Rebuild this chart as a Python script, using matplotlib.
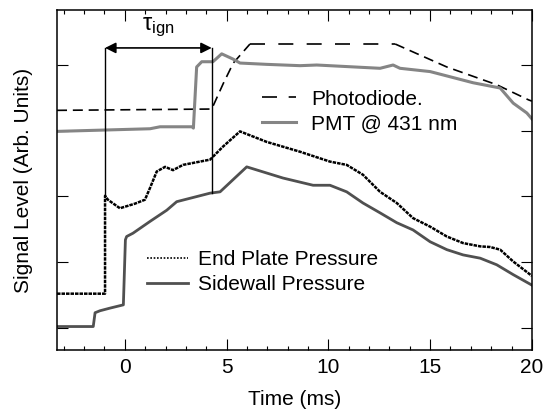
import numpy as np
import matplotlib
matplotlib.use('Agg')
from matplotlib import pyplot as plt
from matplotlib.lines import Line2D

plt.rcParams['font.family'] = ['Liberation Sans', 'DejaVu Sans']
plt.rcParams['mathtext.fontset'] = 'custom'
plt.rcParams['mathtext.rm'] = 'Liberation Sans'
plt.rcParams['mathtext.it'] = 'Liberation Sans:italic'
FS = 15

# photodiode (dashed), time in ms, signal in arb. units
pd_t = [-3.33, 4.27, 4.84, 5.33, 6.15, 13.28, 15.82, 18.27, 19.83, 20.0]
pd_y = [3.31, 3.33, 3.72, 4.03, 4.32, 4.32, 3.97, 3.70, 3.47, 3.45]

# PMT @ 431 nm
pmt_t = [-3.33, 1.24, 1.73, 3.30, 3.37, 3.53, 3.78, 4.33, 4.76, 5.32, 5.66,
         6.97, 8.61, 9.43, 12.54, 13.18, 13.52, 15.00, 17.11, 18.44, 19.08,
         19.75, 20.0]
pmt_y = [2.99, 3.03, 3.06, 3.06, 3.04, 3.97, 4.05, 4.05, 4.17, 4.09, 4.03,
         4.01, 3.99, 4.00, 3.95, 4.00, 3.95, 3.90, 3.73, 3.65, 3.42,
         3.27, 3.18]

# end plate pressure
ep_t = [-3.33, -0.97, -0.97, -0.83, -0.24, 0.50, 0.99, 1.24, 1.57, 1.98,
        2.37, 2.86, 4.19, 4.83, 5.66, 6.97, 8.61, 10.08, 10.90, 11.70,
        12.54, 13.36, 14.16, 15.00, 15.82, 16.62, 17.46, 17.95, 18.44,
        19.08, 20.0]
ep_y = [0.52, 0.52, 2.01, 1.95, 1.82, 1.89, 1.95, 2.13, 2.38, 2.45,
        2.40, 2.48, 2.56, 2.76, 2.99, 2.83, 2.68, 2.53, 2.48, 2.33,
        2.07, 1.90, 1.67, 1.54, 1.39, 1.29, 1.24, 1.23, 1.19,
        1.01, 0.79]

# sidewall pressure
sw_t = [-3.33, -1.55, -1.46, -1.22, -0.73, -0.07, 0.03, 0.09, 0.40, 1.24,
        2.06, 2.55, 4.19, 4.68, 5.99, 7.77, 9.25, 10.08, 10.90, 11.70,
        12.54, 13.36, 14.16, 15.00, 15.82, 16.62, 17.46, 18.27, 19.08, 20.0]
sw_y = [0.02, 0.02, 0.23, 0.26, 0.30, 0.35, 1.34, 1.39, 1.44, 1.62,
        1.79, 1.92, 2.05, 2.07, 2.45, 2.28, 2.17, 2.17, 2.07, 1.90,
        1.75, 1.60, 1.49, 1.31, 1.19, 1.11, 1.06, 0.96, 0.81, 0.65]

# ignition delay markers
t_start = -0.97
t_ign = 4.27
arrow_y = 4.26


def main():
	fig = plt.figure(figsize=(5.45, 4.2), dpi=100)
	fig.subplots_adjust(left=0.1046, right=0.976, top=0.976, bottom=0.167)
	ax = fig.add_subplot(111)

	short = (0, (6, 3.5))
	long_ = (0, (9, 8))
	ax.plot(pd_t[:5], pd_y[:5], color='black', lw=1.2, linestyle=short)
	ax.plot(pd_t[4:6], pd_y[4:6], color='black', lw=1.2, linestyle=long_)
	ax.plot(pd_t[5:], pd_y[5:], color='black', lw=1.2, linestyle=short)

	ax.plot(pmt_t, pmt_y, color='#858585', lw=2.2)
	ax.plot(sw_t, sw_y, color='#505050', lw=2.0)
	ax.plot(ep_t, ep_y, color='black', lw=1.8, linestyle=(0, (1.4, 0.4)))

	# tau_ign annotation
	ax.plot([t_start, t_start], [ep_y[2], arrow_y], color='black', lw=1)
	sw_at_ign = np.interp(t_ign, sw_t, sw_y)
	ax.plot([t_ign, t_ign], [sw_at_ign, arrow_y], color='black', lw=1)
	ax.annotate('', xy=(t_start, arrow_y), xytext=(t_ign, arrow_y),
		arrowprops=dict(arrowstyle='<|-|>', color='black', lw=1.2,
			mutation_scale=16, shrinkA=0, shrinkB=0))
	ax.text((t_start + t_ign) / 2, arrow_y + 0.14, r'$\mathrm{τ}_{\mathrm{ign}}$',
		ha='center', va='bottom', fontsize=FS + 2)

	ax.set_xlim(-3.33, 20.0)
	ax.set_ylim(-0.335, 4.836)
	ax.set_xticks([0, 5, 10, 15, 20])
	ax.set_xticks(np.arange(-3, 21, 1), minor=True)
	ax.set_yticks([0, 1, 2, 3, 4])
	ax.set_yticklabels([])
	ax.tick_params(which='both', direction='in', top=True, right=True, width=0.8)
	ax.tick_params(which='major', length=8, labelsize=FS, pad=6)
	ax.tick_params(which='minor', length=3.2)
	for sp in ax.spines.values():
		sp.set_linewidth(1.1)

	ax.set_xlabel('Time (ms)', fontsize=FS, labelpad=9)
	ax.set_ylabel('Signal Level (Arb. Units)', fontsize=FS, labelpad=11)

	h1 = [Line2D([], [], color='black', lw=1.2, linestyle=(0, (9, 7))),
		Line2D([], [], color='#858585', lw=2.2)]
	leg1 = ax.legend(h1, ['Photodiode.', 'PMT @ 431 nm'], loc='upper left',
		bbox_to_anchor=(0.432, 0.766), frameon=False, fontsize=FS,
		handlelength=1.6, handletextpad=0.75, borderpad=0, borderaxespad=0,
		labelspacing=0.29)
	ax.add_artist(leg1)

	h2 = [Line2D([], [], color='black', lw=1.2, linestyle=(0, (1, 1))),
		Line2D([], [], color='#505050', lw=2.0)]
	ax.legend(h2, ['End Plate Pressure', 'Sidewall Pressure'], loc='upper left',
		bbox_to_anchor=(0.189, 0.293), frameon=False, fontsize=FS,
		handlelength=2.0, handletextpad=0.45, borderpad=0, borderaxespad=0,
		labelspacing=0.29)

	fig.savefig('out.png', dpi=100)


if __name__ == "__main__":
	main()
